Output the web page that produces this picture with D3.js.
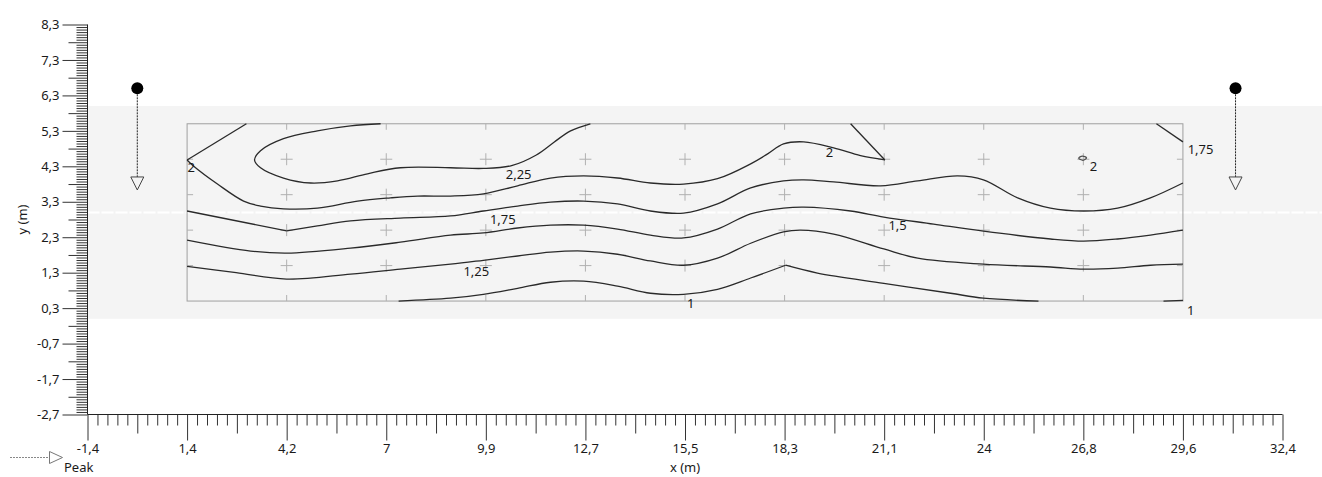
<!DOCTYPE html>
<html><head><meta charset="utf-8">
<script src="https://cdn.jsdelivr.net/npm/d3@7"></script>
<style>
body{margin:0;background:#fff;}
svg{display:block;}
text{font-family:"Noto Sans","DejaVu Sans",sans-serif;font-size:13px;fill:#1a1a1a;}
</style>
</head><body>
<svg id="c" width="1322" height="477"></svg>
<script>
// ---------- data ----------
const xTickLabels = ["-1,4","1,4","4,2","7","9,9","12,7","15,5","18,3","21,1","24","26,8","29,6","32,4"];
const xStart = -1.41, xStep = 2.82;
const yTickValues = [8.3,7.3,6.3,5.3,4.3,3.3,2.3,1.3,0.3,-0.7,-1.7,-2.7];
const yTickLabels = ["8,3","7,3","6,3","5,3","4,3","3,3","2,3","1,3","0,3","-0,7","-1,7","-2,7"];
const gridX = [1.41,4.23,7.05,9.87,12.69,15.51,18.33,21.15,23.97,26.79,29.61];
const gridY = [0.5,1.5,2.5,3.5,4.5,5.5];
const road = [0, 6];
const roadCenter = 3;
const peaks = [{x:0.0, top:6.5, arrow:4.0},{x:31.1, top:6.5, arrow:4.0}];

const contour225 = [[[6.89,5.5],[6.04,5.44],[5.10,5.30],[4.14,5.08],[3.49,4.74],[3.32,4.48],[3.49,4.26],[4.14,3.97],[4.91,3.83],[5.67,3.89],[6.52,4.09],[7.45,4.26],[8.87,4.26],[9.80,4.24],[10.60,4.32],[11.30,4.62],[11.80,4.98],[12.27,5.30],[12.83,5.5]]];
const contour2 = [
  [[3.09,5.5],[1.41,4.48]],
  [[1.41,4.48],[1.59,4.31],[2.27,3.80],[3.01,3.32],[3.49,3.18],[4.14,3.10],[5.10,3.12],[6.24,3.32],[7.17,3.41],[7.94,3.46],[8.87,3.46],[9.80,3.52],[10.77,3.75],[11.70,3.97],[12.64,4.03],[13.60,3.97],[14.53,3.83],[15.47,3.80],[16.43,3.95],[17.37,4.37],[17.85,4.65],[18.30,4.93],[18.87,4.99],[19.72,4.82],[20.48,4.60],[21.17,4.48]],
  [[21.17,4.48],[20.20,5.5]]
];
const contour2loop = [[26.66,4.53],[26.76,4.59],[26.88,4.54],[26.78,4.47]];
const contour175 = [
  [[1.41,3.04],[4.23,2.48]],
  [[4.23,2.48],[5.10,2.62],[6.04,2.76],[7.45,2.84],[8.87,2.90],[9.80,3.04],[10.77,3.18],[11.70,3.29],[12.64,3.32],[13.60,3.24],[14.53,3.04],[15.47,2.98],[16.43,3.24],[17.37,3.69],[18.30,3.89],[18.87,3.92],[19.72,3.86],[21.05,3.75],[22.10,3.89],[23.23,4.03],[23.96,3.92],[24.93,3.41],[25.86,3.12],[26.80,3.04],[27.76,3.12],[28.69,3.41],[29.61,3.83]],
  [[28.86,5.5],[29.61,4.99]]
];
const contour15 = [[[1.41,2.22],[3.21,1.91],[4.23,1.85],[6.04,1.99],[7.45,2.16],[8.87,2.36],[9.80,2.42],[10.77,2.56],[11.70,2.64],[12.64,2.64],[13.60,2.53],[14.53,2.36],[15.47,2.28],[16.43,2.53],[17.37,2.96],[18.30,3.12],[18.87,3.15],[20.20,3.04],[21.14,2.87],[22.55,2.67],[23.96,2.47],[25.86,2.25],[26.80,2.19],[27.76,2.25],[28.69,2.36],[29.61,2.50]]];
const contour125 = [[[1.41,1.48],[2.80,1.30],[4.23,1.12],[6.04,1.26],[7.45,1.40],[8.87,1.54],[9.80,1.65],[10.77,1.77],[11.70,1.88],[12.64,1.91],[13.60,1.82],[14.53,1.63],[15.47,1.51],[16.43,1.71],[17.37,2.13],[18.30,2.45],[18.78,2.50],[19.72,2.39],[21.14,1.97],[22.10,1.71],[23.96,1.54],[25.86,1.46],[26.80,1.40],[27.76,1.43],[28.69,1.51],[29.61,1.54]]];
const contour1 = [
  [[7.40,0.5],[8.87,0.58],[9.80,0.69],[10.77,0.86],[11.70,1.03],[12.64,1.06],[13.60,0.92],[14.53,0.72],[15.47,0.69],[16.43,0.83],[17.37,1.15],[18.36,1.51]],
  [[18.36,1.51],[19.26,1.29],[21.14,1.00],[23.03,0.72],[23.96,0.58],[25.52,0.5]],
  [[29.06,0.5],[29.61,0.52]]
];
const contourLabels = [
  {t:"2",x:1.53,y:4.26},{t:"2,25",x:10.80,y:4.06},{t:"1,75",x:10.35,y:2.79},
  {t:"1,25",x:9.60,y:1.33},{t:"1",x:15.67,y:0.44},{t:"2",x:19.60,y:4.68},
  {t:"1,5",x:21.53,y:2.62},{t:"2",x:27.08,y:4.31},{t:"1,75",x:30.11,y:4.77},
  {t:"1",x:29.83,y:0.24}
];

// ---------- scales ----------
const W = 1322;
const svg = d3.select("#c");
const x = d3.scaleLinear().domain([xStart, xStart + 12*xStep]).range([87.5, 1282.5]);
const y = d3.scaleLinear().domain([-2.7, 8.3]).range([414.5, 24.5]);

// road band
svg.append("rect").attr("x", x(xStart)).attr("y", y(road[1]))
  .attr("width", W - x(xStart)).attr("height", y(road[0]) - y(road[1]))
  .attr("fill", "#f4f4f4");
svg.append("line").attr("x1", x(xStart)).attr("x2", W)
  .attr("y1", y(roadCenter)).attr("y2", y(roadCenter))
  .attr("stroke", "#ffffff").attr("stroke-width", 2).attr("stroke-dasharray", "12,2");

// grid rectangle
const gx0 = gridX[0], gx1 = gridX[gridX.length-1], gy0 = gridY[0], gy1 = gridY[gridY.length-1];
svg.append("rect").attr("x", x(gx0)).attr("y", y(gy1))
  .attr("width", x(gx1) - x(gx0)).attr("height", y(gy0) - y(gy1))
  .attr("fill", "none").attr("stroke", "#a0a0a0").attr("stroke-width", 1);

// crosses
const cg = svg.append("g").attr("stroke", "#b0b0b0").attr("stroke-width", 1);
gridX.forEach((gx, i) => {
  gridY.forEach((gy, j) => {
    const px = x(gx), py = y(gy);
    const edgeX = (i === 0 || i === gridX.length-1), edgeY = (j === 0 || j === gridY.length-1);
    if (edgeX && edgeY) return;
    if (!edgeX && !edgeY) {
      cg.append("line").attr("x1", px-6).attr("x2", px+6).attr("y1", py).attr("y2", py);
      cg.append("line").attr("x1", px).attr("x2", px).attr("y1", py-6).attr("y2", py+6);
    } else if (edgeY) {
      const dir = (j === 0) ? -1 : 1;
      cg.append("line").attr("x1", px).attr("x2", px).attr("y1", py).attr("y2", py + dir*6);
    } else {
      const dir = (i === 0) ? 1 : -1;
      cg.append("line").attr("x1", px).attr("x2", px + dir*6).attr("y1", py).attr("y2", py);
    }
  });
});

// contours
const line = d3.line().x(d => x(d[0])).y(d => y(d[1])).curve(d3.curveCatmullRom.alpha(0.5));
const contG = svg.append("g").attr("fill", "none").attr("stroke", "#2a2a2a").attr("stroke-width", 1.3);
[contour225, contour2, contour175, contour15, contour125, contour1].forEach(c => {
  c.forEach(seg => contG.append("path").attr("d", line(seg)));
});
contG.append("path").attr("d", d3.line().x(d => x(d[0])).y(d => y(d[1])).curve(d3.curveCatmullRomClosed)(contour2loop)).attr("stroke", "#505050");

svg.append("g").selectAll("text").data(contourLabels).join("text")
  .attr("x", d => x(d.x)).attr("y", d => y(d.y)).attr("dy", "0.35em")
  .attr("text-anchor", "middle").text(d => d.t);

// peaks
peaks.forEach(p => {
  const px = x(p.x);
  svg.append("line").attr("x1", px).attr("x2", px).attr("y1", y(p.top)).attr("y2", y(p.arrow))
    .attr("stroke", "#222").attr("stroke-width", 1).attr("stroke-dasharray", "2,1");
  svg.append("path").attr("d", `M${px-6.5},${y(p.arrow)}L${px+6.5},${y(p.arrow)}L${px},${y(p.arrow)+13}Z`)
    .attr("fill", "none").attr("stroke", "#444").attr("stroke-width", 1);
  svg.append("circle").attr("cx", px).attr("cy", y(p.top)).attr("r", 6).attr("fill", "#000");
});

// axes
function clean(g){ g.select(".domain").remove(); g.selectAll("line").attr("stroke", "#333"); }
const xMajor = d3.range(13).map(i => xStart + i*xStep);
const xSub = d3.range(121).map(i => xStart + i*xStep/10);
const axX = svg.append("g").attr("transform", `translate(0,${y(-2.7)})`);
axX.append("g").call(d3.axisBottom(x).tickValues(xSub.filter((d,i) => i%5 !== 0)).tickSize(11).tickSizeOuter(0).tickFormat("")).call(clean);
axX.append("g").call(d3.axisBottom(x).tickValues(xSub.filter((d,i) => i%10 === 5)).tickSize(19).tickSizeOuter(0).tickFormat("")).call(clean);
axX.append("g").call(d3.axisBottom(x).tickValues(xMajor).tickSize(26).tickSizeOuter(0).tickPadding(3)
  .tickFormat((d,i) => xTickLabels[i])).call(clean);
axX.append("line").attr("x1", x(xStart)).attr("x2", x(xStart+12*xStep)).attr("stroke", "#222");

const ySub = d3.range(11*14+1).map(i => 8.3 - i/14);
const axY = svg.append("g").attr("transform", `translate(${x(xStart)},0)`);
axY.append("g").call(d3.axisLeft(y).tickValues(ySub.filter((d,i) => i%7 !== 0)).tickSize(11).tickSizeOuter(0).tickFormat("")).call(clean);
axY.append("g").call(d3.axisLeft(y).tickValues(ySub.filter((d,i) => i%14 === 7)).tickSize(19).tickSizeOuter(0).tickFormat("")).call(clean);
axY.append("g").call(d3.axisLeft(y).tickValues(yTickValues).tickSize(25).tickSizeOuter(0).tickPadding(3)
  .tickFormat((d,i) => yTickLabels[i])).call(clean);
axY.append("line").attr("y1", y(8.3)).attr("y2", y(-2.7)).attr("stroke", "#222");

// axis titles
svg.append("text").attr("x", x(xStart + 6*xStep)).attr("y", 467).attr("dy", "0.35em")
  .attr("text-anchor", "middle").text("x (m)");
svg.append("text").attr("transform", `translate(22,${y(2.8)}) rotate(-90)`).attr("dy", "0.35em")
  .attr("text-anchor", "middle").text("y (m)");

// legend
const lg = svg.append("g");
lg.append("line").attr("x1", 10).attr("x2", 49).attr("y1", 457.5).attr("y2", 457.5)
  .attr("stroke", "#888").attr("stroke-dasharray", "2,1");
lg.append("path").attr("d", "M49.5,451.5L49.5,463.5L62.5,457.5Z").attr("fill", "none").attr("stroke", "#777");
lg.append("text").attr("x", 64).attr("y", 467).attr("dy", "0.35em").text("Peak");
</script>
</body></html>
